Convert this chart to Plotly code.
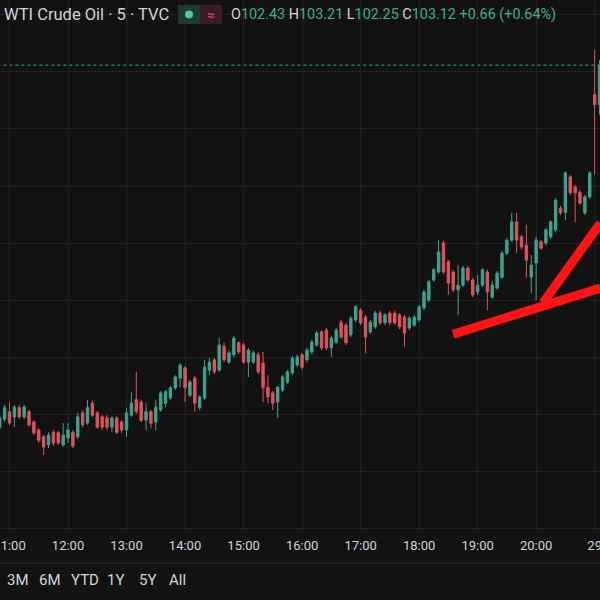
import plotly.graph_objects as go

# 5-minute bars, index 0 = 11:00 (bars -2, -1 are 10:50, 10:55)
bar_index = list(range(-2, 122))
opens = [96.77, 96.91, 97.04, 96.95, 97.11, 96.95, 97.04, 96.86, 96.72, 96.60,
         96.46, 96.68, 96.67, 96.46, 96.58, 96.68, 96.60, 97.02, 96.84, 97.19,
         97.02, 96.95, 96.93, 96.77, 96.93, 96.86, 96.72, 96.98, 97.25, 97.21,
         96.89, 97.04, 96.86, 97.07, 97.19, 97.28, 97.46, 97.63, 97.81, 97.33,
         97.63, 97.11, 97.28, 97.77, 97.95, 97.77, 98.19, 97.91, 98.04, 98.25,
         98.21, 97.91, 97.91, 98.04, 97.89, 97.47, 97.37, 97.21, 97.42, 97.56,
         97.72, 97.86, 98.04, 97.95, 98.09, 98.21, 98.44, 98.47, 98.16, 98.26,
         98.61, 98.56, 98.39, 98.65, 98.82, 98.70, 98.44, 98.53, 98.77, 98.60,
         98.77, 98.77, 98.74, 98.70, 98.51, 98.56, 98.65, 98.86, 99.00, 99.35,
         99.49, 100.00, 99.67, 99.49, 99.18, 99.26, 99.56, 99.35, 99.14, 99.26,
         99.49, 99.05, 99.21, 99.40, 99.82, 100.05, 100.37, 100.11, 99.96, 99.40,
         99.65, 100.02, 100.00, 100.11, 100.23, 100.61, 100.54, 101.16, 100.98, 100.89,
         100.53, 100.81, 102.60, 102.43]
highs = [96.98, 97.16, 97.21, 97.16, 97.16, 97.16, 97.07, 96.89, 96.75, 96.63,
         96.68, 96.72, 96.70, 96.84, 96.84, 96.72, 97.02, 97.07, 97.25, 97.23,
         97.05, 96.98, 96.98, 96.96, 96.96, 96.89, 97.11, 97.39, 97.74, 97.25,
         97.19, 97.07, 97.25, 97.40, 97.42, 97.49, 97.68, 97.89, 97.84, 97.60,
         97.67, 97.33, 97.95, 97.98, 97.98, 98.33, 98.25, 98.11, 98.37, 98.28,
         98.25, 98.16, 98.11, 98.09, 98.09, 97.68, 97.40, 97.49, 97.68, 97.77,
         98.02, 98.04, 98.07, 98.16, 98.30, 98.46, 98.47, 98.51, 98.37, 98.51,
         98.65, 98.60, 98.72, 98.91, 98.86, 98.74, 98.65, 98.81, 98.81, 98.77,
         98.81, 98.81, 98.77, 98.74, 98.72, 98.74, 98.91, 99.18, 99.35, 99.56,
         100.05, 100.04, 99.70, 99.53, 99.61, 99.60, 99.60, 99.39, 99.44, 99.56,
         99.53, 99.33, 99.51, 99.86, 100.09, 100.53, 100.53, 100.14, 100.32, 99.79,
         100.11, 100.05, 100.26, 100.40, 100.79, 100.65, 101.26, 101.19, 101.02, 100.93,
         100.84, 101.26, 103.39, 103.21]
lows = [96.72, 96.86, 96.81, 96.77, 96.91, 96.91, 96.77, 96.63, 96.49, 96.28,
        96.40, 96.44, 96.46, 96.42, 96.49, 96.40, 96.56, 96.77, 96.81, 96.95,
        96.74, 96.72, 96.72, 96.68, 96.65, 96.67, 96.60, 96.95, 97.00, 96.86,
        96.72, 96.75, 96.72, 97.04, 97.12, 97.25, 97.42, 97.47, 97.21, 97.30,
        97.04, 97.07, 97.25, 97.68, 97.70, 97.74, 97.91, 97.88, 98.00, 98.05,
        97.88, 97.65, 97.88, 97.70, 97.21, 97.19, 97.07, 96.93, 97.39, 97.53,
        97.68, 97.82, 97.77, 97.91, 98.05, 98.18, 98.12, 98.12, 98.00, 98.23,
        98.32, 98.21, 98.35, 98.61, 98.56, 98.07, 98.40, 98.49, 98.56, 98.56,
        98.56, 98.56, 98.49, 98.18, 98.47, 98.53, 98.61, 98.82, 98.96, 99.32,
        99.46, 99.46, 99.09, 99.14, 98.74, 99.23, 99.32, 99.05, 99.09, 99.23,
        98.82, 99.02, 99.18, 99.37, 99.79, 100.02, 99.82, 99.89, 99.39, 99.12,
        99.00, 99.88, 99.96, 100.07, 100.19, 100.49, 100.40, 100.84, 100.37, 100.67,
        100.49, 100.77, 101.20, 102.25]
closes = [96.93, 97.11, 96.84, 97.12, 96.95, 97.12, 96.81, 96.67, 96.54, 96.42,
          96.63, 96.49, 96.49, 96.63, 96.72, 96.44, 96.95, 96.81, 97.11, 96.98,
          96.77, 96.77, 96.77, 96.93, 96.68, 96.72, 97.02, 97.19, 97.04, 96.89,
          97.04, 96.84, 97.12, 97.37, 97.39, 97.46, 97.65, 97.86, 97.46, 97.56,
          97.19, 97.30, 97.82, 97.91, 97.74, 98.21, 97.95, 98.07, 98.33, 98.09,
          97.91, 98.12, 98.07, 97.74, 97.46, 97.30, 97.19, 97.47, 97.65, 97.74,
          97.98, 98.00, 97.82, 98.12, 98.26, 98.42, 98.16, 98.16, 98.33, 98.47,
          98.35, 98.25, 98.68, 98.88, 98.60, 98.35, 98.61, 98.77, 98.60, 98.74,
          98.60, 98.60, 98.53, 98.42, 98.68, 98.70, 98.88, 99.14, 99.32, 99.53,
          99.84, 99.49, 99.30, 99.18, 99.26, 99.56, 99.35, 99.09, 99.26, 99.53,
          99.14, 99.26, 99.47, 99.82, 100.05, 100.37, 100.05, 99.93, 99.70, 99.61,
          100.05, 99.91, 100.23, 100.37, 100.75, 100.53, 101.23, 100.88, 100.88, 100.70,
          100.81, 101.23, 102.43, 103.12]

hour_ticks = [0, 12, 24, 36, 48, 60, 72, 84, 96, 108, 120]
hour_labels = ["11:00", "12:00", "13:00", "14:00", "15:00", "16:00",
               "17:00", "18:00", "19:00", "20:00", "29"]
price_grid = [95, 96, 97, 98, 99, 100, 101, 102, 103, 104]
last_close = 103.12
range_buttons = ["3M", "6M", "YTD", "1Y", "5Y", "All"]
# hand-drawn red trend lines (bar index, price)
drawn_lines = [((90.97, 98.40), (121.2, 99.21)),
               ((109.4, 98.95), (121.2, 100.35))]

UP = "#3aa58d"
DOWN = "#e0535c"
BG = "#121212"
TXT = "#d1d4dc"
FONT = "Roboto"

fig = go.Figure()
fig.add_trace(go.Candlestick(
    x=bar_index, open=opens, high=highs, low=lows, close=closes,
    increasing=dict(line=dict(color=UP, width=1), fillcolor=UP),
    decreasing=dict(line=dict(color=DOWN, width=1), fillcolor=DOWN),
    whiskerwidth=0, showlegend=False, hoverinfo="skip",
))

fig.add_shape(type="line", xref="x", yref="y", x0=-2.5, x1=122, y0=last_close, y1=last_close,
              line=dict(color=UP, width=1, dash="dot"), layer="below")
for (a, b) in drawn_lines:
    fig.add_shape(type="line", xref="x", yref="y", x0=a[0], y0=a[1], x1=b[0], y1=b[1],
                  line=dict(color="#ff1414", width=9), layer="above")

# separator line above range toolbar
fig.add_shape(type="line", xref="paper", yref="paper", x0=0, x1=1,
              y0=-33 / 530, y1=-33 / 530, line=dict(color="#2a2a2a", width=1))

# legend-like header
fig.add_annotation(xref="paper", yref="paper", x=2 / 600, y=1 - 15 / 530,
                   xanchor="left", yanchor="middle", showarrow=False,
                   text="WTI Crude Oil · 5 · TVC", font=dict(family=FONT, size=16.5, color=TXT))
fig.add_shape(type="rect", xref="paper", yref="paper", x0=178 / 600, x1=200 / 600,
              y0=1 - 24 / 530, y1=1 - 5 / 530, fillcolor="#1d3a33", line=dict(width=0))
fig.add_shape(type="rect", xref="paper", yref="paper", x0=200 / 600, x1=222 / 600,
              y0=1 - 24 / 530, y1=1 - 5 / 530, fillcolor="#3a1c26", line=dict(width=0))
fig.add_shape(type="circle", xref="paper", yref="paper", x0=185 / 600, x1=193 / 600,
              y0=1 - 18.5 / 530, y1=1 - 10.5 / 530, fillcolor="#4fc7a6", line=dict(width=0))
fig.add_annotation(xref="paper", yref="paper", x=211 / 600, y=1 - 15 / 530,
                   xanchor="center", yanchor="middle", showarrow=False,
                   text="≈", font=dict(family=FONT, size=14, color="#e2456d"))

g = "#3fae93"
ohlc = (f"O<span style='color:{g}'>102.43</span> H<span style='color:{g}'>103.21</span> "
        f"L<span style='color:{g}'>102.25</span> C<span style='color:{g}'>103.12</span> "
        f"<span style='color:{g}'>+0.66 (+0.64%)</span>")
fig.add_annotation(xref="paper", yref="paper", x=229 / 600, y=1 - 15 / 530,
                   xanchor="left", yanchor="middle", showarrow=False,
                   text=ohlc, font=dict(family=FONT, size=14.4, color=TXT))

# range toolbar
button_x = [5, 37, 69, 105, 137, 167]
for lbl, bx in zip(range_buttons, button_x):
    fig.add_annotation(xref="paper", yref="paper", x=bx / 600, y=-50 / 530,
                       xanchor="left", yanchor="middle", showarrow=False,
                       text=lbl, font=dict(family=FONT, size=15, color=TXT))

fig.update_layout(
    width=600, height=600,
    margin=dict(l=0, r=0, t=0, b=70, autoexpand=False),
    paper_bgcolor=BG, plot_bgcolor=BG,
    font=dict(family=FONT, color=TXT),
    xaxis=dict(range=[-1.95, 121.1], rangeslider=dict(visible=False), automargin=False,
               tickvals=hour_ticks, ticktext=hour_labels, ticklabeloverflow="allow",
               showgrid=True, gridcolor="#212121", gridwidth=1,
               zeroline=False, showline=False, ticks="",
               tickfont=dict(family=FONT, size=13, color=TXT), ticklabelstandoff=6),
    yaxis=dict(range=[94.965, 104.263], tickvals=price_grid, showticklabels=False,
               automargin=False,
               showgrid=True, gridcolor="#212121", gridwidth=1,
               zeroline=False, showline=False, ticks=""),
)

fig.write_html("out.html", config={"displayModeBar": False},
               post_script="document.body.style.margin='0';document.body.style.background='#121212';")
